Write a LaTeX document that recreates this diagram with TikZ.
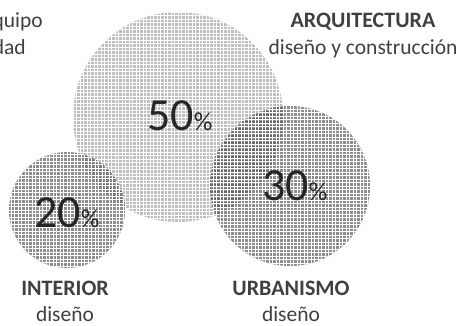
\documentclass[tikz,border=0pt]{standalone}
\usepackage{fontspec}
\setmainfont{Carlito}
\begin{document}
\begin{tikzpicture}[x=1pt,y=-1pt,
  bigfill/.style={fill=black,fill opacity=0.26},
  smallfill/.style={fill=black,fill opacity=0.45},
  gridline/.style={white,line width=0.6pt},
  pct/.style={inner sep=0pt,anchor=base west,text=black!85},
  head/.style={inner sep=0pt,anchor=base,font=\fontsize{22}{26}\selectfont\bfseries,text=black!75},
  sub/.style={inner sep=0pt,anchor=base,font=\fontsize{21.5}{26}\selectfont,text=black!75},
  cut/.style={inner sep=0pt,anchor=base east,font=\fontsize{21.5}{26}\selectfont,text=black!75}]
\useasboundingbox (0,0) rectangle (460,325);
\newcommand{\mytexture}[3]{%
  \begin{scope}
    \clip (#1,#2) circle[radius=#3];
    \foreach \k in {-30,...,30} {
      \draw[gridline] ({#1+3.5*\k},{#2-#3}) -- ({#1+3.5*\k},{#2+#3});
      \draw[gridline] ({#1-#3},{#2+3.5*\k}) -- ({#1+#3},{#2+3.5*\k});
    }
  \end{scope}}
% big circle
\path[bigfill] (178,117) circle[radius=105];
\mytexture{178}{117}{105}
% small circles
\path[smallfill] (67,210) circle[radius=58];
\mytexture{67}{210}{58}
\path[smallfill] (290,186) circle[radius=80];
\mytexture{290}{186}{80}
% percentages
\node[pct] (p50) at (147,130) {\fontsize{46}{46}\selectfont 50\fontsize{26}{26}\selectfont\%};
\node[pct] (p20) at (34,227) {\fontsize{46}{46}\selectfont 20\fontsize{26}{26}\selectfont\%};
\node[pct] (p30) at (262,200) {\fontsize{46}{46}\selectfont 30\fontsize{26}{26}\selectfont\%};
% labels
\node[head] (arq) at (363,27) {ARQUITECTURA};
\node[sub] (arqs) at (363,54) {diseño y construcción};
\node[head] (int) at (65,295) {INTERIOR};
\node[sub] (ints) at (65,321) {diseño};
\node[head] (urb) at (291,295) {URBANISMO};
\node[sub] (urbs) at (291,321) {diseño};
\node[cut] (c1) at (43,27) {quipo};
\node[cut] (c2) at (26,54) {dad};
\end{tikzpicture}
\end{document}
